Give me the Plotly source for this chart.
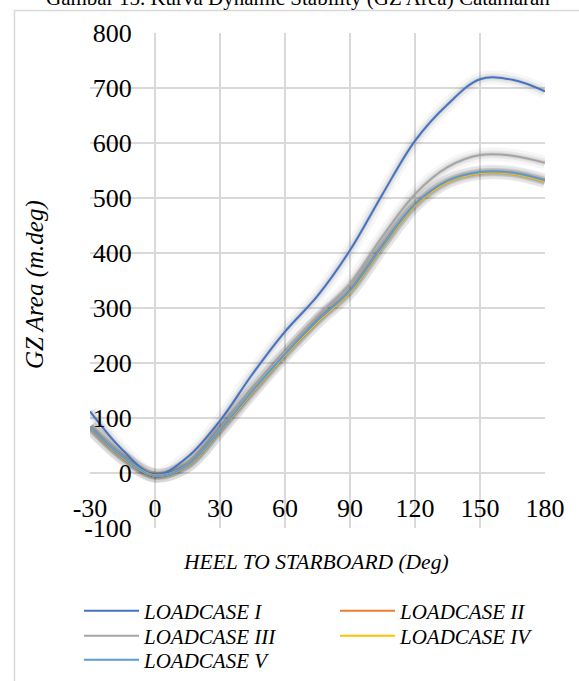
import plotly.graph_objects as go

heel = [-30, -15, 0, 15, 30, 45, 60, 75, 90, 105, 120, 135, 150, 165, 180]
lc1 = [112, 42, -4, 29, 95, 180, 257, 322, 405, 507, 604, 670, 716, 715, 694]
lc2 = [84, 28, -5, 14, 78, 148, 215, 276, 330, 412, 487, 530, 546, 545, 531]
lc3 = [84, 30, -4, 15, 80, 152, 220, 285, 344, 430, 507, 556, 578, 577, 564]
lc4 = [83, 28, -5, 13, 77, 147, 214, 275, 329, 411, 486, 529, 545, 544, 530]
lc5 = [84, 29, -5, 14, 78, 149, 216, 277, 331, 413, 488, 531, 547, 546, 532]

names = ["LOADCASE I", "LOADCASE II", "LOADCASE III", "LOADCASE IV", "LOADCASE V"]
colors = ["#4472C4", "#ED7D31", "#A5A5A5", "#FFC000", "#5B9BD5"]
legend_rows = ["legend", "legend", "legend2", "legend2", "legend3"]
series = [lc1, lc2, lc3, lc4, lc5]

xticks = [-30, 0, 30, 60, 90, 120, 150, 180]
yticks = [-100, 0, 100, 200, 300, 400, 500, 600, 700, 800]

title_text = "Gambar 15. Kurva Dynamic Stability (GZ Area) Catamaran"
xtitle = "HEEL TO STARBOARD (Deg)"
ytitle = "GZ Area (m.deg)"

FONT = "Liberation Serif, Times New Roman, serif"

fig = go.Figure()

# soft shadows under the curves
for ys in series:
    for w, a in [(14, 0.035), (8, 0.06), (4, 0.07)]:
        fig.add_trace(go.Scatter(x=heel, y=ys, mode="lines",
                                 line=dict(color=f"rgba(0,0,0,{a})", width=w, shape="spline", smoothing=1.0),
                                 showlegend=False, hoverinfo="skip"))

for nm, c, ys, lg in zip(names, colors, series, legend_rows):
    fig.add_trace(go.Scatter(x=heel, y=ys, mode="lines", name=nm, legend=lg,
                             line=dict(color=c, width=2, shape="spline", smoothing=1.0)))

W, H = 579, 681
L, R, T, B = 90, 34, 33, 153
pw = W - L - R
ph = H - T - B

def px_x(p):
    return (p - L) / pw

def px_y(p):
    return (H - B - p) / ph

def legend_row(ypix):
    return dict(orientation="h", x=px_x(79), y=px_y(ypix), xanchor="left", yanchor="middle",
                font=dict(family=FONT, size=21, style="italic"), entrywidth=186, itemwidth=55,
                tracegroupgap=0, bgcolor="rgba(0,0,0,0)")

fig.update_layout(
    width=W, height=H,
    margin=dict(l=L, r=R, t=T, b=B, autoexpand=False),
    paper_bgcolor="white", plot_bgcolor="white",
    font=dict(family=FONT, color="black"),
    showlegend=True,
    legend=legend_row(611),
    legend2=legend_row(636),
    legend3=legend_row(660),
    xaxis=dict(range=[-30, 180], tickvals=xticks, ticktext=[str(v) for v in xticks],
               showgrid=True, gridcolor="#d9d9d9", gridwidth=1.5, zeroline=False,
               showline=False, anchor="free", position=100 / 900,
               ticks="outside", ticklen=12, tickcolor="rgba(0,0,0,0)",
               tickfont=dict(family=FONT, size=26), fixedrange=True),
    yaxis=dict(range=[-100, 800], tickvals=yticks, ticktext=[str(v) for v in yticks],
               showgrid=True, gridcolor="#d9d9d9", gridwidth=1.5, zeroline=False,
               showline=False, anchor="free", position=px_x(139),
               ticks="outside", ticklen=2, tickcolor="rgba(0,0,0,0)",
               tickfont=dict(family=FONT, size=26), fixedrange=True),
)

fig.add_annotation(text=title_text, xref="paper", yref="paper", x=px_x(298), y=px_y(12),
                   xanchor="center", yanchor="bottom", showarrow=False,
                   font=dict(family=FONT, size=21))
fig.add_annotation(text=xtitle, xref="paper", yref="paper", x=px_x(316), y=px_y(562),
                   xanchor="center", yanchor="middle", showarrow=False,
                   font=dict(family=FONT, size=21.5, style="italic"))
fig.add_annotation(text=ytitle, xref="paper", yref="paper", x=px_x(35), y=px_y(285),
                   xanchor="center", yanchor="middle", showarrow=False, textangle=-90,
                   font=dict(family=FONT, size=25, style="italic"))

# chart border
fig.add_shape(type="rect", xref="paper", yref="paper", x0=px_x(14.5), x1=px_x(600), y0=px_y(10.5), y1=px_y(700),
              line=dict(color="#d9d9d9", width=1.5), fillcolor="rgba(0,0,0,0)", layer="below")

fig.write_html("out.html", config={"displayModeBar": False},
               post_script="document.body.style.margin='0';document.body.style.padding='0';")
